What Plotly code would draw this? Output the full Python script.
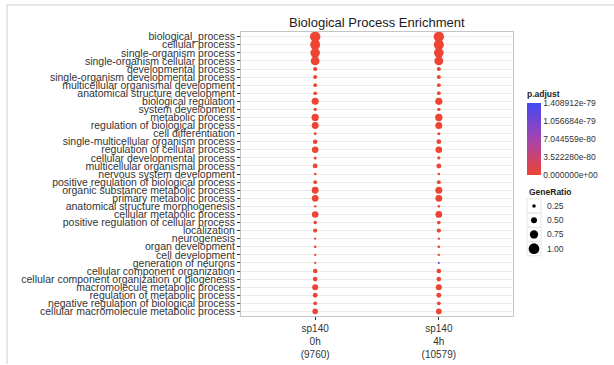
import plotly.graph_objects as go

W, H = 614, 365

terms = [
    "biological_process", "cellular process", "single-organism process",
    "single-organism cellular process", "developmental process",
    "single-organism developmental process", "multicellular organismal development",
    "anatomical structure development", "biological regulation", "system development",
    "metabolic process", "regulation of biological process", "cell differentiation",
    "single-multicellular organism process", "regulation of cellular process",
    "cellular developmental process", "multicellular organismal process",
    "nervous system development", "positive regulation of biological process",
    "organic substance metabolic process", "primary metabolic process",
    "anatomical structure morphogenesis", "cellular metabolic process",
    "positive regulation of cellular process", "localization", "neurogenesis",
    "organ development", "cell development", "generation of neurons",
    "cellular component organization", "cellular component organization or biogenesis",
    "macromolecule metabolic process", "regulation of metabolic process",
    "negative regulation of biological process", "cellular macromolecule metabolic process",
]

groups = ["sp140<br>0h<br>(9760)", "sp140<br>4h<br>(10579)"]

ratio_0h = [0.97, 0.92, 0.88, 0.80, 0.30, 0.29, 0.27, 0.26, 0.62, 0.22,
            0.64, 0.60, 0.18, 0.36, 0.56, 0.19, 0.38, 0.14, 0.28, 0.60,
            0.58, 0.13, 0.57, 0.25, 0.31, 0.11, 0.15, 0.12, 0.10, 0.35,
            0.36, 0.50, 0.38, 0.27, 0.46]
ratio_4h = [0.97, 0.93, 0.89, 0.81, 0.31, 0.30, 0.28, 0.27, 0.63, 0.23,
            0.65, 0.61, 0.19, 0.37, 0.57, 0.20, 0.39, 0.15, 0.29, 0.61,
            0.59, 0.14, 0.58, 0.26, 0.32, 0.12, 0.16, 0.13, 0.09, 0.36,
            0.37, 0.51, 0.39, 0.28, 0.47]

padj_0h = [0.0] * 35
padj_4h = [0.0] * 28 + [1.408912e-79] + [0.0] * 6

cb_vals = [0.0, 3.522280e-80, 7.044559e-80, 1.056684e-79, 1.408912e-79]
cb_text = ["0.000000e+00", "3.522280e-80", "7.044559e-80", "1.056684e-79", "1.408912e-79"]

size_breaks = [0.25, 0.50, 0.75, 1.00]
size_labels = ["0.25", "0.50", "0.75", "1.00"]


def dot_size(v):
    return 1.2 + 9.5 * v


def px_x(p):
    return p / W


def px_y(p):
    return 1 - p / H


colorscale = [[0.0, "#EE4433"], [0.5, "#A444B0"], [1.0, "#4448F5"]]
text_col = "#333333"
font_family = "Liberation Sans, Arial, sans-serif"

fig = go.Figure()

fig.add_trace(go.Scatter(
    x=[groups[0]] * len(terms) + [groups[1]] * len(terms),
    y=terms + terms,
    mode="markers",
    marker=dict(
        size=[dot_size(v) for v in ratio_0h + ratio_4h],
        sizemode="diameter",
        opacity=1,
        color=padj_0h + padj_4h,
        colorscale=colorscale,
        cmin=cb_vals[0], cmax=cb_vals[-1],
        line=dict(width=0),
        showscale=True,
        colorbar=dict(
            title=dict(text="<b>p.adjust</b>", side="top",
                       font=dict(size=8.5, color="#222", family=font_family)),
            tickvals=cb_vals, ticktext=cb_text, ticks="",
            tickfont=dict(size=8.5, color=text_col, family=font_family),
            thickness=14, thicknessmode="pixels",
            len=87, lenmode="pixels",
            x=px_x(527), xanchor="left", xpad=0,
            y=px_y(175), yanchor="bottom", ypad=0,
            outlinewidth=0,
        ),
    ),
    showlegend=False,
    hoverinfo="skip",
    xaxis="x", yaxis="y",
))

# GeneRatio size legend
fig.add_trace(go.Scatter(
    x=[0.5] * len(size_breaks),
    y=size_labels,
    mode="markers",
    marker=dict(size=[dot_size(v) for v in size_breaks], sizemode="diameter",
                opacity=1, color="black", line=dict(width=0)),
    showlegend=False, hoverinfo="skip",
    xaxis="x2", yaxis="y2",
))

shapes = []
key_top = 199
key_h = 14.3
for i in range(len(size_breaks)):
    shapes.append(dict(type="rect", xref="paper", yref="paper",
                       x0=px_x(527), x1=px_x(541),
                       y0=px_y(key_top + i * key_h), y1=px_y(key_top + (i + 1) * key_h),
                       line=dict(color="#E6E6E6", width=1), fillcolor="rgba(0,0,0,0)",
                       layer="below"))
# outer frame lines
shapes.append(dict(type="line", xref="paper", yref="paper",
                   x0=px_x(7), x1=1, y0=px_y(4), y1=px_y(4),
                   line=dict(color="#CFCFCF", width=1)))
shapes.append(dict(type="line", xref="paper", yref="paper",
                   x0=px_x(7), x1=px_x(7), y0=px_y(4), y1=0,
                   line=dict(color="#CFCFCF", width=1)))

annotations = [
    dict(text="Biological Process Enrichment", x=px_x(377), y=px_y(22),
         xref="paper", yref="paper", showarrow=False, xanchor="center", yanchor="middle",
         font=dict(size=13, color="#1a1a1a", family=font_family)),
    dict(text="<b>GeneRatio</b>", x=px_x(527), y=px_y(192),
         xref="paper", yref="paper", showarrow=False, xanchor="left", yanchor="middle",
         font=dict(size=8.5, color="#222", family=font_family)),
]
for i, lab in enumerate(size_labels):
    annotations.append(dict(text=lab, x=px_x(545), y=px_y(key_top + (i + 0.5) * key_h),
                            xref="paper", yref="paper", showarrow=False,
                            xanchor="left", yanchor="middle",
                            font=dict(size=8.5, color=text_col, family=font_family)))

fig.update_layout(
    width=W, height=H,
    margin=dict(l=0, r=0, t=0, b=0),
    paper_bgcolor="white", plot_bgcolor="white",
    font=dict(family=font_family, color=text_col),
    xaxis=dict(
        domain=[px_x(241), px_x(513)],
        type="category", categoryorder="array", categoryarray=groups,
        range=[-0.6, 1.6], showgrid=False, zeroline=False,
        showline=True, mirror=True, linecolor="#C4C4C4", linewidth=1,
        ticks="outside", ticklen=3, tickcolor="#333", tickwidth=1,
        tickfont=dict(size=10, color=text_col, family=font_family),
        anchor="y", fixedrange=True,
    ),
    yaxis=dict(
        domain=[px_y(317), px_y(31)],
        type="category", categoryorder="array", categoryarray=terms,
        tickmode="array", tickvals=terms, ticktext=terms,
        range=[len(terms) - 0.4, -0.6], showgrid=True, gridcolor="#EBEBEB", gridwidth=1,
        zeroline=False, showline=True, mirror=True, linecolor="#C4C4C4", linewidth=1,
        ticks="outside", ticklen=3, tickcolor="#333", tickwidth=1,
        tickfont=dict(size=10.5, color=text_col, family=font_family),
        anchor="x", fixedrange=True,
    ),
    xaxis2=dict(domain=[px_x(527), px_x(541)], range=[0, 1], visible=False,
                anchor="y2", fixedrange=True),
    yaxis2=dict(domain=[px_y(key_top + 4 * key_h), px_y(key_top)],
                type="category", categoryorder="array", categoryarray=size_labels,
                range=[3.5, -0.5], visible=False, anchor="x2", fixedrange=True),
    shapes=shapes,
    annotations=annotations,
)

fig.write_html("out.html")
